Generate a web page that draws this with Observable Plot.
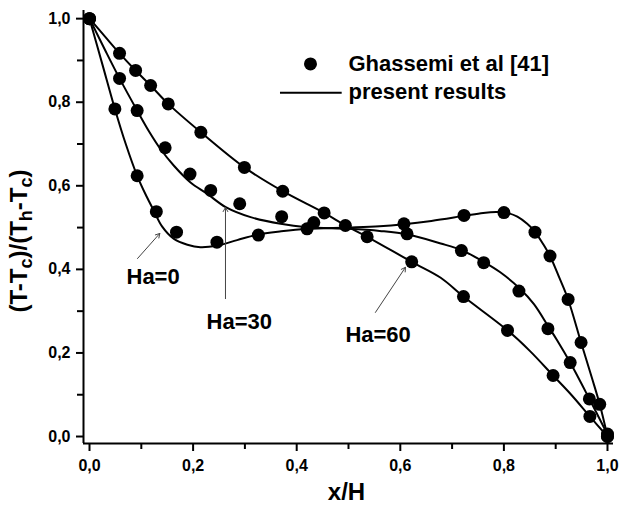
<!DOCTYPE html>
<html><head><meta charset="utf-8">
<script src="https://cdn.jsdelivr.net/npm/d3@7"></script>
<script src="https://cdn.jsdelivr.net/npm/@observablehq/plot@0.6"></script>
<style>body{margin:0;background:#fff;}</style>
</head><body><div id="chart"></div>
<script>
// Ghassemi et al [41] (dots)
const ghHa0X  = [0, 0.049, 0.092, 0.129, 0.168, 0.246, 0.326, 0.420, 0.607, 0.723, 0.800, 0.860, 0.889, 0.924, 0.949, 0.985, 1.0];
const ghHa0Y  = [1.0, 0.784, 0.624, 0.538, 0.489, 0.465, 0.482, 0.497, 0.509, 0.529, 0.536, 0.489, 0.432, 0.328, 0.225, 0.077, 0.0];
const ghHa30X = [0, 0.058, 0.092, 0.146, 0.194, 0.234, 0.290, 0.371, 0.433, 0.613, 0.718, 0.761, 0.829, 0.885, 0.928, 0.965, 1.0];
const ghHa30Y = [1.0, 0.857, 0.780, 0.691, 0.628, 0.589, 0.557, 0.526, 0.512, 0.485, 0.445, 0.416, 0.348, 0.258, 0.177, 0.090, 0.006];
const ghHa60X = [0, 0.058, 0.089, 0.118, 0.152, 0.215, 0.299, 0.373, 0.453, 0.494, 0.536, 0.622, 0.722, 0.807, 0.895, 0.966, 1.0];
const ghHa60Y = [1.0, 0.917, 0.876, 0.840, 0.796, 0.728, 0.644, 0.587, 0.535, 0.505, 0.478, 0.418, 0.335, 0.254, 0.146, 0.048, 0.0];

// present results (lines)
const prHa0X  = [0, 0.025, 0.049, 0.07, 0.092, 0.11, 0.124, 0.140, 0.163, 0.189, 0.214, 0.247, 0.285, 0.324, 0.37, 0.42, 0.5, 0.56, 0.607, 0.66, 0.723, 0.76, 0.787, 0.81, 0.826, 0.845, 0.860, 0.875, 0.889, 0.907, 0.924, 0.949, 0.97, 0.985, 1.0];
const prHa0Y  = [1.0, 0.89, 0.784, 0.70, 0.624, 0.575, 0.541, 0.503, 0.473, 0.459, 0.453, 0.457, 0.470, 0.483, 0.491, 0.497, 0.500, 0.503, 0.508, 0.516, 0.528, 0.535, 0.537, 0.534, 0.526, 0.509, 0.490, 0.462, 0.432, 0.38, 0.328, 0.225, 0.14, 0.077, 0.0];
const prHa30X = [0, 0.03, 0.058, 0.092, 0.115, 0.137, 0.163, 0.195, 0.227, 0.263, 0.311, 0.369, 0.420, 0.5, 0.56, 0.613, 0.678, 0.72, 0.761, 0.793, 0.83, 0.858, 0.885, 0.903, 0.928, 0.965, 1.0];
const prHa30Y = [1.0, 0.925, 0.857, 0.780, 0.73, 0.688, 0.648, 0.608, 0.581, 0.549, 0.525, 0.509, 0.501, 0.497, 0.492, 0.484, 0.462, 0.445, 0.418, 0.393, 0.355, 0.317, 0.265, 0.230, 0.177, 0.090, 0.005];
const prHa60X = [0, 0.03, 0.058, 0.089, 0.118, 0.152, 0.215, 0.299, 0.373, 0.453, 0.494, 0.536, 0.622, 0.678, 0.722, 0.807, 0.85, 0.895, 0.93, 0.966, 1.0];
const prHa60Y = [1.0, 0.957, 0.917, 0.876, 0.840, 0.796, 0.728, 0.644, 0.587, 0.535, 0.505, 0.478, 0.418, 0.38, 0.335, 0.254, 0.205, 0.146, 0.10, 0.048, 0.0];

// ticks
const xMajor = [0, 0.2, 0.4, 0.6, 0.8, 1.0];
const xMinor = [0.1, 0.3, 0.5, 0.7, 0.9];
const yMajor = [0, 0.2, 0.4, 0.6, 0.8, 1.0];
const yMinor = [0.1, 0.3, 0.5, 0.7, 0.9];

// annotations
const annLabels = ["Ha=0", "Ha=30", "Ha=60"];
const annLabelX = [0.0714, 0.2259, 0.494];
const annLabelY = [0.383, 0.275, 0.244];
const annArrowX1 = [0.0927, 0.2625, 0.552];
const annArrowY1 = [0.426, 0.330, 0.297];
const annArrowX2 = [0.1357, 0.2625, 0.610];
const annArrowY2 = [0.486, 0.548, 0.405];

const legendLabels = ["Ghassemi et al [41]", "present results"];

const font = "'Liberation Sans', Arial, Helvetica, sans-serif";
const xDomain = [-0.0116, 1.0116];
const yDomain = [-0.0167, 1.0195];

function rows(xs, ys, s) { return xs.map((x, i) => ({x, y: ys[i], s})); }
const dots = [...rows(ghHa0X, ghHa0Y, "0"), ...rows(ghHa30X, ghHa30Y, "30"), ...rows(ghHa60X, ghHa60Y, "60")];
const curves = [...rows(prHa0X, prHa0Y, "0"), ...rows(prHa30X, prHa30Y, "30"), ...rows(prHa60X, prHa60Y, "60")];
const ann = annLabels.map((t, i) => ({t, lx: annLabelX[i], ly: annLabelY[i], x1: annArrowX1[i], y1: annArrowY1[i], x2: annArrowX2[i], y2: annArrowY2[i]}));
const fmt = d => d.toFixed(1).replace(".", ",");

// legend placement (data units)
const legDotX = 0.4266, legRowY = [0.8916, 0.8245], legLineX = [0.3687, 0.4878], legTextX = 0.5;

const chart = Plot.plot({
  width: 621, height: 514,
  marginLeft: 83, marginRight: 8, marginTop: 10, marginBottom: 71,
  style: {fontFamily: font, background: "#fff", color: "#000"},
  x: {domain: xDomain, label: null},
  y: {domain: yDomain, label: null},
  marks: [
    Plot.ruleY([yDomain[0]], {stroke: "#000", strokeWidth: 2}),
    Plot.ruleX([xDomain[0]], {stroke: "#000", strokeWidth: 2}),
    Plot.axisX({ticks: xMajor, tickFormat: fmt, tickSize: 8, tickPadding: 8, fontSize: 16, fontWeight: "bold", strokeWidth: 2, label: null}),
    Plot.axisX({ticks: xMinor, tickFormat: () => "", tickSize: 6, strokeWidth: 2, label: null}),
    Plot.axisY({ticks: yMajor, tickFormat: fmt, tickSize: 7, tickPadding: 6, fontSize: 16, fontWeight: "bold", strokeWidth: 2, label: null}),
    Plot.axisY({ticks: yMinor, tickFormat: () => "", tickSize: 6, strokeWidth: 2, label: null}),
    Plot.line(curves, {x: "x", y: "y", z: "s", curve: "catmull-rom", stroke: "#000", strokeWidth: 2}),
    Plot.dot(dots, {x: "x", y: "y", r: 6.5, fill: "#000"}),
    Plot.arrow(ann, {x1: "x1", y1: "y1", x2: "x2", y2: "y2", stroke: "#444", strokeWidth: 1, headLength: 7, bend: 0}),
    Plot.text(ann, {x: "lx", y: "ly", text: "t", textAnchor: "start", fontSize: 22, fontWeight: "bold", fill: "#000"}),
    // legend
    Plot.dot([0], {x: () => legDotX, y: () => legRowY[0], r: 6.5, fill: "#000"}),
    Plot.ruleY([0], {x1: () => legLineX[0], x2: () => legLineX[1], y: () => legRowY[1] - 0.002, stroke: "#000", strokeWidth: 2}),
    Plot.text(legendLabels, {x: () => legTextX, y: (d, i) => legRowY[i], text: d => d, textAnchor: "start", fontSize: 22, fontWeight: "bold", fill: "#000"})
  ]
});

const svg = d3.select(chart);
// x axis title
svg.append("text")
  .attr("x", 346.5).attr("y", 500)
  .attr("text-anchor", "middle")
  .attr("font-family", font).attr("font-size", 24).attr("font-weight", "bold")
  .attr("fill", "#000")
  .text("x/H");
// y axis title with subscripts
const yt = svg.append("text")
  .attr("transform", "translate(27,241) rotate(-90)")
  .attr("text-anchor", "middle")
  .attr("font-family", font).attr("font-size", 24).attr("font-weight", "bold")
  .attr("fill", "#000");
const parts = [["(T-T", 0], ["c", 1], [")/(T", 0], ["h", 1], ["-T", 0], ["c", 1], [")", 0]];
let prevSub = 0;
parts.forEach(([t, sub]) => {
  const ts = yt.append("tspan").text(t);
  const shift = sub && !prevSub ? 5 : (!sub && prevSub ? -5 : 0);
  if (shift) ts.attr("dy", shift);
  if (sub) ts.attr("font-size", 18);
  prevSub = sub;
});

document.getElementById("chart").appendChild(chart);
</script>
</body></html>
